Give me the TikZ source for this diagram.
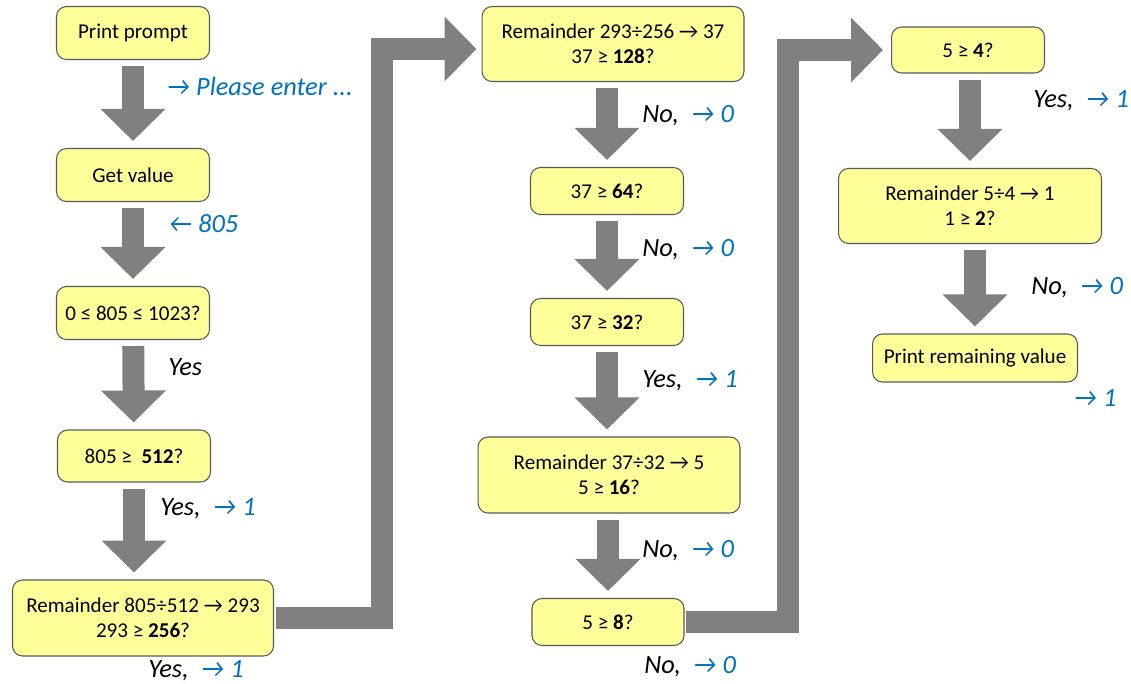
\documentclass[tikz,border=0pt]{standalone}
\usepackage{fontspec}
\setmainfont{Carlito}
\usetikzlibrary{arrows.meta}
\definecolor{boxfill}{HTML}{FFFF99}
\definecolor{boxline}{HTML}{595959}
\definecolor{flowgray}{HTML}{808080}
\definecolor{outblue}{HTML}{0070C0}
\newcommand{\out}[1]{\textcolor{outblue}{#1}}
\begin{document}
\begin{tikzpicture}[x=0.02cm, y=-0.02cm,
	valbox/.style={draw=boxline, fill=boxfill, rounded corners=0.2cm, align=center, inner sep=0pt, line width=0.6pt, font=\fontsize{12}{14.5}\selectfont},
	tag/.style={anchor=west, inner sep=0pt, font=\fontsize{15}{17}\selectfont\itshape},
	downflow/.style={draw=flowgray, line width=0.44cm, -{Triangle[width=1.26cm, length=0.64cm]}, shorten <=0.12cm, shorten >=0.14cm},
	elbowflow/.style={downflow, line join=miter, shorten <=0.03cm}]
	
	\useasboundingbox (0,0) rectangle (1131,683);
	
	% Nodes
	\node[valbox, minimum width=3.06cm, minimum height=1.06cm] (prompt) at (133,33) {Print prompt};
	\node[valbox, minimum width=3.06cm, minimum height=1.06cm] (get) at (133,175) {Get value};
	\node[valbox, minimum width=3.06cm, minimum height=1.06cm] (range) at (133,313) {0 ≤ 805 ≤ 1023?};
	\node[valbox, minimum width=3.06cm, minimum height=1.04cm] (q512) at (134,456) {805 ≥\ \ \textbf{512}?};
	\node[valbox, minimum width=5.22cm, minimum height=1.52cm] (rem512) at (143,618) {Remainder 805÷512 → 293\\293 ≥ \textbf{256}?};
	
	\node[valbox, minimum width=5.24cm, minimum height=1.5cm] (rem256) at (613,44) {Remainder 293÷256 → 37\\37 ≥ \textbf{128}?};
	\node[valbox, minimum width=3.06cm, minimum height=0.94cm] (q64) at (607,191) {37 ≥ \textbf{64}?};
	\node[valbox, minimum width=3.06cm, minimum height=0.94cm] (q32) at (607,322) {37 ≥ \textbf{32}?};
	\node[valbox, minimum width=5.24cm, minimum height=1.52cm] (rem32) at (609,475) {Remainder 37÷32 → 5\\5 ≥ \textbf{16}?};
	\node[valbox, minimum width=3.04cm, minimum height=0.94cm] (q8) at (608,622) {5 ≥ \textbf{8}?};
	
	\node[valbox, minimum width=3.06cm, minimum height=0.92cm] (q4) at (968,50) {5 ≥ \textbf{4}?};
	\node[valbox, minimum width=5.26cm, minimum height=1.5cm] (rem4) at (970,206) {Remainder 5÷4 → 1\\1 ≥ \textbf{2}?};
	\node[valbox, minimum width=4.1cm, minimum height=0.96cm] (final) at (975,358) {Print remaining value};
	
	% Labels
	\node[tag] (t1) at (166,86) {\out{→ Please enter ...}};
	\node[tag] (t2) at (168,224) {\out{← 805}};
	\node[tag] (t3) at (168,367) {Yes};
	\node[tag] (t4) at (160,509) {Yes,\ \ \out{→ 1}};
	\node[tag] (t5) at (148,671) {Yes,\ \ \out{→ 1}};
	\node[tag] (t6) at (642,116) {No,\ \ \out{→ 0}};
	\node[tag] (t7) at (642,250) {No,\ \ \out{→ 0}};
	\node[tag] (t8) at (642,381) {Yes,\ \ \out{→ 1}};
	\node[tag] (t9) at (642,551) {No,\ \ \out{→ 0}};
	\node[tag] (t10) at (644,667) {No,\ \ \out{→ 0}};
	\node[tag] (t11) at (1033,101) {Yes,\ \ \out{→ 1}};
	\node[tag] (t12) at (1031,288) {No,\ \ \out{→ 0}};
	\node[tag] (t13) at (1073,398) {\out{→ 1}};
	
	% Flow arrows
	\draw[downflow] (prompt) -- (get);
	\draw[downflow] (get) -- (range);
	\draw[downflow] (range) -- (q512);
	\draw[downflow] (q512.south) -- (q512.south |- rem512.north);
	\draw[elbowflow, shorten >=0.1cm] (rem512.east) -- ++(108,0) |- ([yshift=-0.1cm]rem256.west);
	
	\draw[downflow] (q64.north |- rem256.south) -- (q64.north);
	\draw[downflow] (q64) -- (q32);
	\draw[downflow] (q32.south) -- (q32.south |- rem32.north);
	\draw[downflow] (q8.north |- rem32.south) -- (q8.north);
	\draw[elbowflow, shorten >=0.16cm] (q8.east) -- ++(103,0) |- (q4.west);
	
	\draw[downflow] (rem4.north |- q4.south) -- (rem4.north);
	\draw[downflow] (final.north |- rem4.south) -- (final.north);
\end{tikzpicture}
\end{document}
